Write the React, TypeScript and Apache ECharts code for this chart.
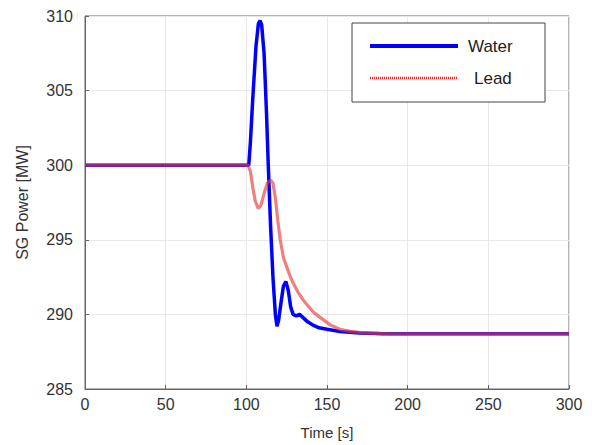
import React, { useEffect, useRef } from "react";
import * as echarts from "echarts";

const xTicks = [0, 50, 100, 150, 200, 250, 300];
const yTicks = [285, 290, 295, 300, 305, 310];

const waterTime = [0, 100, 101.5, 102.5, 104, 106, 107.5, 108.5, 109.5, 111, 112.5, 113.6, 115, 116.5, 118, 119, 120, 121.5, 123, 124.5, 126, 127.5, 129, 131, 133, 135, 138, 141, 145, 150, 158, 170, 185, 300];
const waterPower = [300, 300, 300, 301.5, 304.5, 308, 309.5, 309.7, 309.4, 307.5, 303.5, 300, 296, 292.5, 290, 289.2, 289.6, 290.8, 291.9, 292.2, 291.6, 290.5, 290.0, 289.9, 290.0, 289.8, 289.5, 289.3, 289.1, 289.0, 288.85, 288.75, 288.7, 288.7];

const leadTime = [0, 101, 102.5, 104, 105.5, 107.4, 109, 111, 113, 115, 116.5, 118, 119.5, 121, 123, 125, 127, 129, 132, 135, 138, 142, 147, 152, 158, 165, 175, 190, 300];
const leadPower = [300, 300, 299.6, 298.5, 297.6, 297.1, 297.3, 298.1, 298.8, 299.0, 298.8, 297.8, 296.3, 295.0, 293.8, 293.2, 292.6, 292.1, 291.5, 291.0, 290.6, 290.1, 289.7, 289.3, 289.0, 288.85, 288.75, 288.7, 288.7];

const seriesNames = ["Water", "Lead"];

export default function App() {
  const ref = useRef<HTMLDivElement>(null);
  useEffect(() => {
    if (!ref.current) return;
    const chart = echarts.init(ref.current, null, { renderer: "svg" });
    const font = "Liberation Sans, Arial, sans-serif";
    const axisColor = "#666";
    chart.setOption({
      animation: false,
      backgroundColor: "#fff",
      grid: { left: 85, right: 23, top: 16, bottom: 53, show: true, borderColor: axisColor, borderWidth: 1 },
      xAxis: {
        type: "value",
        min: xTicks[0],
        max: xTicks[xTicks.length - 1],
        interval: 50,
        name: "Time [s]",
        nameLocation: "middle",
        nameGap: 36,
        nameTextStyle: { fontFamily: font, fontSize: 15, color: "#333" },
        axisLine: { show: true, lineStyle: { color: axisColor } },
        axisTick: { show: true, inside: true, length: 4, lineStyle: { color: axisColor } },
        axisLabel: { fontFamily: font, fontSize: 16, color: "#333", margin: 7 },
        splitLine: { show: true, lineStyle: { color: "#e8e8e8" } },
      },
      yAxis: {
        type: "value",
        min: yTicks[0],
        max: yTicks[yTicks.length - 1],
        interval: 5,
        name: "SG Power [MW]",
        nameLocation: "middle",
        nameGap: 55,
        nameTextStyle: { fontFamily: font, fontSize: 16, color: "#333" },
        axisLine: { show: true, lineStyle: { color: axisColor } },
        axisTick: { show: true, inside: true, length: 4, lineStyle: { color: axisColor } },
        axisLabel: { fontFamily: font, fontSize: 16, color: "#333", margin: 12 },
        splitLine: { show: true, lineStyle: { color: "#e8e8e8" } },
      },
      series: [
        {
          name: seriesNames[0],
          type: "line",
          showSymbol: false,
          data: waterTime.map((t, i) => [t, waterPower[i]]),
          lineStyle: { color: "#0000ff", width: 3.5 },
          itemStyle: { color: "#0000ff" },
          z: 2,
        },
        {
          name: seriesNames[1],
          type: "line",
          showSymbol: false,
          data: leadTime.map((t, i) => [t, leadPower[i]]),
          lineStyle: { color: "rgb(230,60,60)", width: 3.2, opacity: 0.65 },
          itemStyle: { color: "rgb(230,60,60)" },
          z: 3,
        },
      ],
      graphic: [
        {
          type: "rect",
          shape: { x: 352, y: 23, width: 193, height: 79 },
          style: { fill: "#fff", stroke: "#444", lineWidth: 1 },
          z: 10,
        },
        {
          type: "line",
          shape: { x1: 370, y1: 46, x2: 458, y2: 46 },
          style: { stroke: "#0000ff", lineWidth: 4 },
          z: 11,
        },
        {
          type: "line",
          shape: { x1: 370, y1: 78, x2: 458, y2: 78 },
          style: { stroke: "#ff2020", lineWidth: 2.5, lineDash: [1, 1] },
          z: 11,
        },
        {
          type: "text",
          x: 468,
          y: 46,
          style: { text: seriesNames[0], fontFamily: font, fontSize: 17, fill: "#222", verticalAlign: "middle" },
          z: 11,
        },
        {
          type: "text",
          x: 474,
          y: 78,
          style: { text: seriesNames[1], fontFamily: font, fontSize: 17, fill: "#222", verticalAlign: "middle" },
          z: 11,
        },
      ],
    });
    return () => chart.dispose();
  }, []);
  return <div ref={ref} style={{ width: 592, height: 445, position: "absolute", left: 0, top: 0 }} />;
}
